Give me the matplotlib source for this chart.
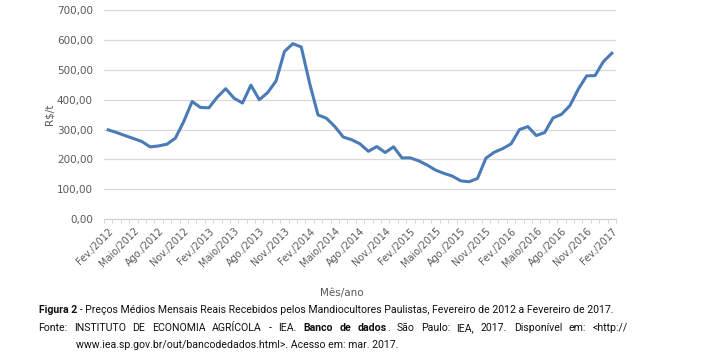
"""Preços médios mensais reais recebidos pelos mandiocultores paulistas, 2012-2017."""
import matplotlib
matplotlib.use("Agg")
import matplotlib.pyplot as plt

# R$/t, fev/2012 .. fev/2017 (one value per month)
precos = [
    299, 290, 280, 270, 260, 242, 245, 251, 271, 327, 394, 374,
    373, 409, 437, 405, 389, 449, 400, 424, 463, 562, 588, 577,
    455, 349, 338, 310, 275, 266, 252, 227, 243, 223, 242, 205,
    205, 195, 181, 164, 153, 144, 128, 125, 136, 204, 224, 236,
    252, 300, 310, 280, 290, 339, 351, 380, 435, 480, 481, 528,
    556,
]
meses = ["Fev.", "Maio", "Ago.", "Nov."]
rotulos = [f"{meses[k % 4]}/{2012 + k // 4}" for k in range(21)]
yticks = [0, 100, 200, 300, 400, 500, 600, 700]

W, H = 704, 362
fig = plt.figure(figsize=(W / 100, H / 100), dpi=100)
ax = fig.add_axes([104 / W, 1 - 219 / H, 512 / W, (219 - 10.3) / H])

gray = "#595959"
x = list(range(len(precos)))
ax.plot(x, precos, color="#4a7bb7", linewidth=2.2, solid_joinstyle="round", zorder=3)

ax.set_xlim(-0.5, len(precos) - 0.5)
ax.set_ylim(0, 700)
ax.set_yticks(yticks)
ax.set_yticklabels([f"{v},00" for v in yticks], color=gray, fontsize=7.5)
ax.grid(axis="y", color="#d9d9d9", linewidth=0.9)
ax.set_axisbelow(True)
for s in ["left", "right", "top"]:
    ax.spines[s].set_visible(False)
ax.spines["bottom"].set_color("#d0d0d0")
ax.tick_params(axis="y", length=0, pad=8)

ax.set_xticks([i - 0.5 for i in range(len(precos) + 1)], minor=True)
ax.set_xticks(x[::3])
ax.set_xticklabels(rotulos, rotation=45, ha="right", rotation_mode="anchor",
                   color=gray, fontsize=7)
ax.tick_params(axis="x", which="major", length=0, pad=5)
ax.tick_params(axis="x", which="minor", length=3, color="#d0d0d0")

ax.set_ylabel("R$/t", color=gray, fontsize=7.5, labelpad=2)
fig.text(342 / W, 1 - 293 / H, "Mês/ano", color=gray, fontsize=7.5,
         ha="center", va="center")

cap = dict(family="Roboto", fontsize=8.0, color="#111111", va="center")
r = fig.canvas.get_renderer()


def pecas(partes, x0, y):
    """Bold/normal runs placed one after another from x0 (px); returns end x."""
    pos = x0
    for txt, bold in partes:
        t = fig.text(pos / W, 1 - y / H, txt, fontweight="bold" if bold else "normal", **cap)
        pos += t.get_window_extent(r).width
    return pos


def justificada(partes, x0, y, x1):
    """Words spread evenly between x0 and x1; a run starting with punctuation sticks to
    the word before it."""
    grupos = []
    for txt, bold in partes:
        ws = txt.split(" ")
        for k, w in enumerate(ws):
            if not w:
                continue
            if k == 0 and not txt.startswith(" ") and grupos and w[0] in ".,;:":
                grupos[-1].append((w, bold))
            else:
                grupos.append([(w, bold)])
    objs, larg = [], []
    for g in grupos:
        o = [fig.text(0, 1 - y / H, w, fontweight="bold" if b else "normal", **cap)
             for w, b in g]
        objs.append(o)
        larg.append([t.get_window_extent(r).width for t in o])
    esp = (x1 - x0 - sum(sum(l) for l in larg)) / (len(objs) - 1)
    pos = x0
    for o, l in zip(objs, larg):
        for t, w in zip(o, l):
            t.set_x(pos / W)
            pos += w
        pos += esp


fig1 = [("Figura 2", True), (" - Preços Médios Mensais Reais Recebidos pelos Mandiocultores "
        "Paulistas, Fevereiro de 2012 a Fevereiro de 2017.", False)]
fonte = [("Fonte: INSTITUTO DE ECONOMIA AGRÍCOLA - IEA.", False), (" ", False),
         ("Banco de dados", True), (". São Paulo: IEA, 2017. Disponível em: <http://", False)]
url = [("www.iea.sp.gov.br/out/bancodedados.html>. Acesso em: mar. 2017.", False)]

# fit the caption size so the first line ends where the reference's does
n0 = len(fig.texts)
fim = pecas(fig1, 39, 310)
for t in list(fig.texts[n0:]):
    t.remove()
cap["fontsize"] *= (616 - 39) / (fim - 39)

pecas(fig1, 39, 310)
justificada([p for p in fonte if p[0].strip()], 38, 328, 628)
pecas(url, 76, 345)

fig.savefig("out.png", dpi=100)
